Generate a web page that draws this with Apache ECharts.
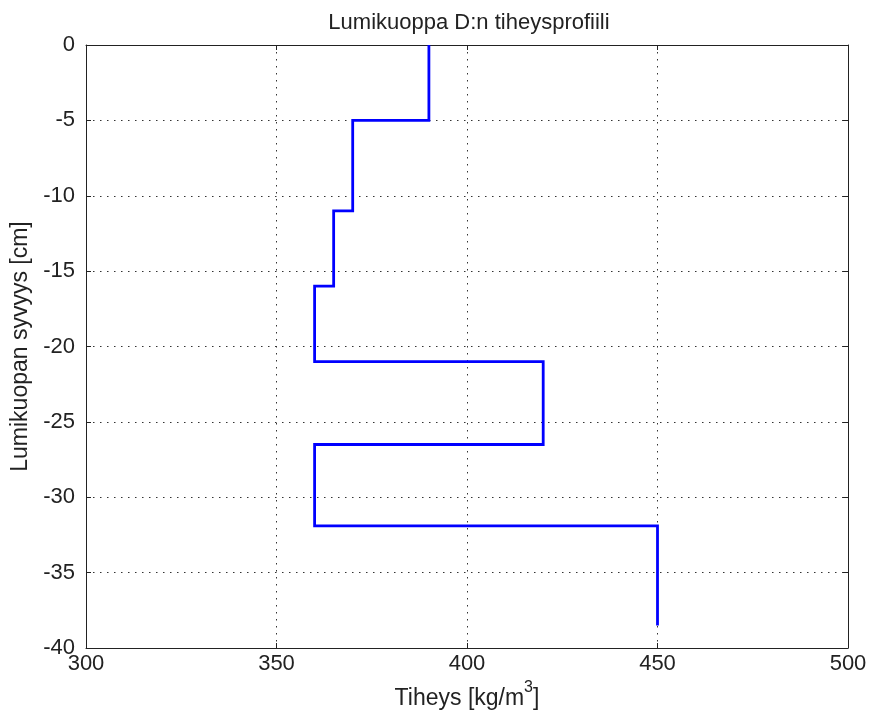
<!DOCTYPE html>
<html>
<head>
<meta charset="utf-8">
<script src="https://cdn.jsdelivr.net/npm/echarts@6/dist/echarts.min.js"></script>
<style>
html,body{margin:0;padding:0;background:#fff;}
#chart{width:871px;height:720px;}
</style>
</head>
<body>
<div id="chart"></div>
<script>
// Snow pit D density profile: each layer has a top depth, bottom depth and density
const layerTop = [0, -5, -11, -16, -21, -26.5, -31.9];
const layerBottom = [-5, -11, -16, -21, -26.5, -31.9, -38.5];
const density = [390, 370, 365, 360, 420, 360, 450];
const xTicks = [300, 350, 400, 450, 500];
const yTicks = [0, -5, -10, -15, -20, -25, -30, -35, -40];

// Step profile: vertical segment per layer, joined horizontally
const profile = [];
for (let i = 0; i < density.length; i++) {
  profile.push([density[i], layerTop[i]]);
  profile.push([density[i], layerBottom[i]]);
}

const font = 'Arial, "Liberation Sans", sans-serif';
const frame = { show: true, onZero: false, lineStyle: { color: '#222', width: 1 } };
const tick = { show: true, inside: true, length: 5, lineStyle: { color: '#222' } };
const gridLine = { show: true, lineStyle: { color: '#333', type: [1.5, 5.5], width: 1 } };

const chart = echarts.init(document.getElementById('chart'));
chart.setOption({
  animation: false,
  backgroundColor: '#fff',
  title: {
    text: 'Lumikuoppa D:n tiheysprofiili',
    left: 464, top: 7, textAlign: 'center',
    textStyle: { fontFamily: font, fontSize: 22, fontWeight: 'normal', color: '#222' }
  },
  grid: { left: 86, right: 23, top: 45, bottom: 72 },
  xAxis: [{
    type: 'value', min: xTicks[0], max: xTicks[xTicks.length - 1], interval: 50,
    position: 'bottom',
    name: '{base|Tiheys [kg/m}{sup|3}{base|]}', nameLocation: 'middle', nameGap: 32,
    nameTextStyle: {
      fontFamily: font, fontSize: 23, color: '#222', verticalAlign: 'top',
      rich: {
        base: { fontFamily: font, fontSize: 23, color: '#222', lineHeight: 30, verticalAlign: 'bottom' },
        sup: { fontFamily: font, fontSize: 16, color: '#222', lineHeight: 16, verticalAlign: 'top' }
      }
    },
    axisLine: frame,
    axisTick: tick,
    axisLabel: { fontFamily: font, fontSize: 22, color: '#222', margin: 5 },
    splitLine: gridLine
  }, {
    type: 'value', min: xTicks[0], max: xTicks[xTicks.length - 1], interval: 50,
    position: 'top',
    axisLine: frame,
    axisTick: tick,
    axisLabel: { show: false },
    splitLine: { show: false }
  }],
  yAxis: [{
    type: 'value', min: yTicks[yTicks.length - 1], max: yTicks[0], interval: 5,
    position: 'left',
    name: 'Lumikuopan syvyys [cm]', nameLocation: 'middle', nameGap: 52, nameRotate: 90,
    nameTextStyle: { fontFamily: font, fontSize: 23, color: '#222' },
    axisLine: frame,
    axisTick: tick,
    axisLabel: { fontFamily: font, fontSize: 22, color: '#222', margin: 11 },
    splitLine: gridLine
  }, {
    type: 'value', min: yTicks[yTicks.length - 1], max: yTicks[0], interval: 5,
    position: 'right',
    axisLine: frame,
    axisTick: tick,
    axisLabel: { show: false },
    splitLine: { show: false }
  }],
  series: [{
    type: 'line',
    xAxisIndex: 0, yAxisIndex: 0,
    data: profile,
    showSymbol: false,
    lineStyle: { color: '#0000ff', width: 2.8, join: 'miter' }
  }]
});
</script>
</body>
</html>
